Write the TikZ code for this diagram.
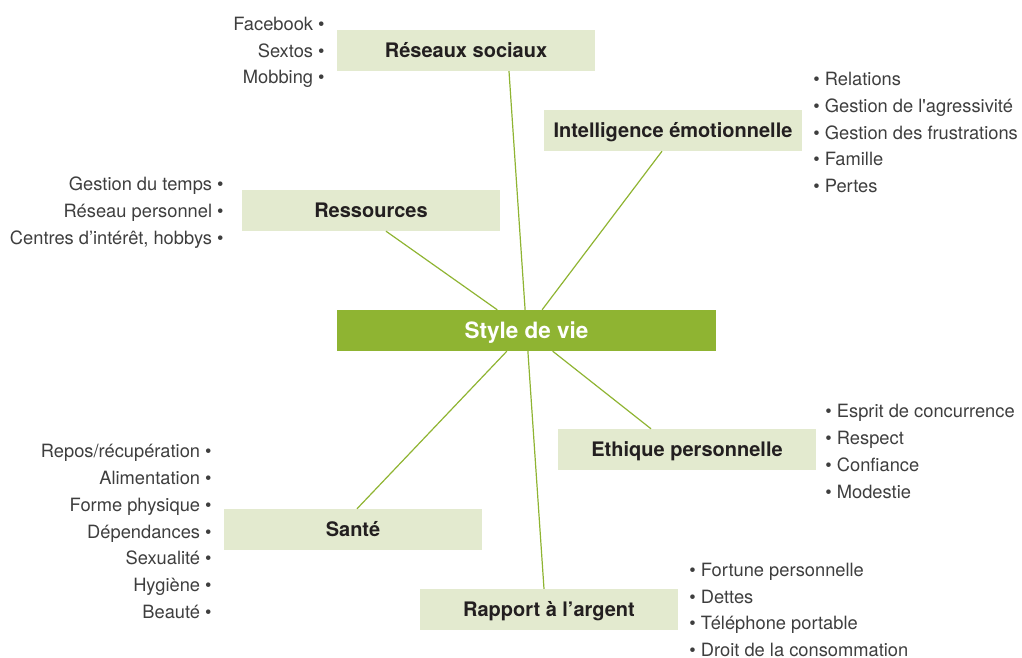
\documentclass[tikz,border=0pt]{standalone}
\usepackage{fontspec}
\setmainfont{TeX Gyre Heros}
\usepackage{tikz}
\usetikzlibrary{positioning}
\definecolor{vert}{RGB}{143,180,50}
\definecolor{vertclair}{RGB}{227,234,207}
\definecolor{texte}{RGB}{35,31,32}
\definecolor{gris}{RGB}{62,62,62}
\tikzstyle{recNode} = [rectangle, minimum width=258pt, minimum height=41pt, text centered, text height=14.4pt, text depth=0pt, fill=vertclair, text=texte, font=\fontsize{20}{23}\selectfont\bfseries]
\tikzstyle{recNodeM} = [recNode, minimum width=379pt, text height=16.2pt, fill=vert, text=white, font=\fontsize{22.5}{26}\selectfont\bfseries]
\tikzstyle{itemNode} = [inner sep=0pt, yshift=-2pt, text=gris, font=\fontsize{18.3}{26.7}\selectfont]
\tikzstyle{itemNodeL} = [itemNode, align=right]
\tikzstyle{itemNodeR} = [itemNode, align=left]
\tikzstyle{lineG} = [line width=1.2pt, draw=vert]
\newcommand{\bul}{\textbullet}

\begin{document}
\begin{tikzpicture}[node distance=80pt]
    \useasboundingbox (-526.5pt,-327.5pt) rectangle (495.5pt,330.5pt);
    \node (vie) [recNodeM] {Style de vie};
    \node (ressources) [recNode, above of=vie, yshift=40pt, xshift=-155.5pt] {Ressources};
    \node (intel) [recNode, above of=ressources, xshift=302pt] {Intelligence émotionnelle};
    \node (reseaux) [recNode, above of=intel, xshift=-207pt] {Réseaux sociaux};
    \node (ethique) [recNode, below of=vie, yshift=-39pt, xshift=160.5pt] {Ethique personnelle};
    \node (sante) [recNode, below of=ethique, xshift=-334pt] {Santé};
    \node (argent) [recNode, below of=sante, xshift=196pt] {Rapport à l’argent};

    % listes
    \node (reseauxItems) [itemNodeL, left=12pt of reseaux] {Facebook \bul\\ Sextos \bul\\ Mobbing \bul};
    \node (ressourcesItems) [itemNodeL, left=18pt of ressources] {Gestion du temps \bul\\ Réseau personnel \bul\\ Centres d’intérêt, hobbys \bul};
    \node (santeItems) [itemNodeL, left=12pt of sante] {Repos/récupération \bul\\ Alimentation \bul\\ Forme physique \bul\\ Dépendances \bul\\ Sexualité \bul\\ Hygiène \bul\\ Beauté \bul};
    \node (intelItems) [itemNodeR, right=11pt of intel] {\bul{} Relations\\ \bul{} Gestion de l\textquotesingle agressivité\\ \bul{} Gestion des frustrations\\ \bul{} Famille\\ \bul{} Pertes};
    \node (ethiqueItems) [itemNodeR, right=9pt of ethique] {\bul{} Esprit de concurrence\\ \bul{} Respect\\ \bul{} Confiance\\ \bul{} Modestie};
    \node (argentItems) [itemNodeR, right=11pt of argent, yshift=1.5pt] {\bul{} Fortune personnelle\\ \bul{} Dettes\\ \bul{} Téléphone portable\\ \bul{} Droit de la consommation};

    \draw [lineG] (vie) -- ([xshift=43pt]reseaux.south);
    \draw [lineG] (vie) -- ([xshift=-11pt]intel.south);
    \draw [lineG] (vie) -- ([xshift=15pt]ressources.south);
    \draw [lineG] (vie) -- ([xshift=-36pt]ethique.north);
    \draw [lineG] (vie) -- ([xshift=4pt]sante.north);
    \draw [lineG] (vie) -- ([xshift=-5pt]argent.north);
\end{tikzpicture}
\end{document}
